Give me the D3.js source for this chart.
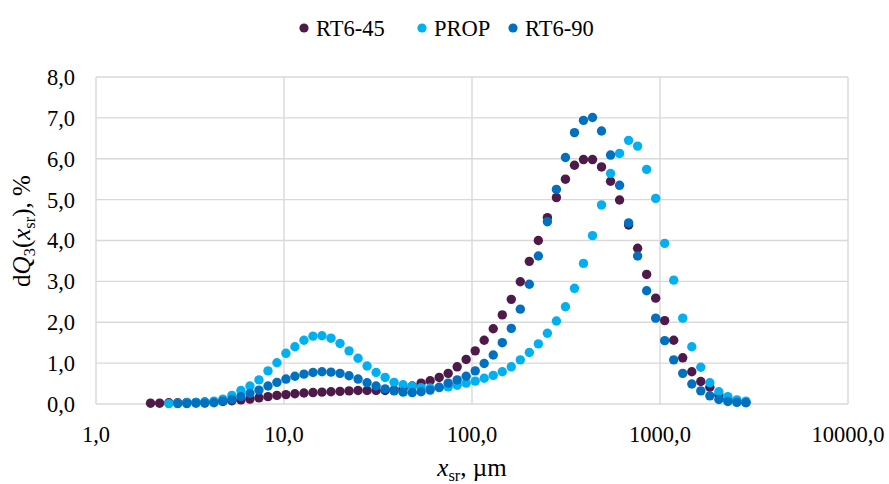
<!DOCTYPE html>
<html>
<head>
<meta charset="utf-8">
<script src="https://cdn.jsdelivr.net/npm/d3@7"></script>
<style>
  body { margin: 0; background: #fff; }
  text { font-family: "Liberation Serif", "Times New Roman", serif; fill: #000; }
</style>
</head>
<body>
<div id="chart"></div>
<script>
// particle size classes, µm
const sizes = [1.95, 2.18, 2.44, 2.72, 3.04, 3.40, 3.79, 4.24, 4.73, 5.28, 5.90, 6.59, 7.36, 8.22, 9.17,
  10.24, 11.43, 12.77, 14.26, 15.92, 17.78, 19.86, 22.18, 24.77, 27.66, 30.89, 34.5, 38.5, 43.0, 48.1,
  53.6, 59.9, 66.9, 74.7, 83.4, 93.1, 104.0, 116.1, 129.7, 144.9, 161.8, 180.7, 201.8, 225.4, 251.8,
  281.2, 314.1, 350.8, 391.7, 437.5, 488.6, 545.8, 609.5, 680.8, 760.3, 849.2, 948.4, 1059, 1183,
  1321, 1476, 1648, 1841, 2056, 2296, 2564, 2864];

// dQ3 values, %
const rt645 = [0.02, 0.02, 0.03, 0.03, 0.04, 0.04, 0.05, 0.05, 0.06, 0.08, 0.10, 0.12, 0.15, 0.18, 0.21,
  0.23, 0.25, 0.27, 0.28, 0.29, 0.30, 0.31, 0.32, 0.33, 0.33, 0.33, 0.33, 0.34, 0.38, 0.44,
  0.51, 0.57, 0.65, 0.75, 0.91, 1.09, 1.30, 1.56, 1.84, 2.18, 2.56, 2.99, 3.49, 4.00, 4.56,
  5.05, 5.50, 5.84, 5.98, 5.98, 5.80, 5.45, 4.99, 4.38, 3.81, 3.17, 2.59, 2.04, 1.56,
  1.13, 0.79, 0.55, 0.41, 0.22, 0.12, 0.07, 0.04];

const prop = [null, null, 0.01, 0.02, 0.03, 0.04, 0.05, 0.07, 0.12, 0.21, 0.33, 0.44, 0.59, 0.81, 1.01,
  1.24, 1.40, 1.56, 1.66, 1.67, 1.61, 1.48, 1.30, 1.12, 0.93, 0.77, 0.65, 0.53, 0.47, 0.43,
  0.40, 0.39, 0.40, 0.42, 0.46, 0.51, 0.56, 0.63, 0.70, 0.79, 0.91, 1.08, 1.26, 1.47, 1.73,
  2.03, 2.38, 2.83, 3.44, 4.12, 4.87, 5.64, 6.13, 6.45, 6.31, 5.74, 5.03, 3.93, 3.03,
  2.10, 1.40, 0.90, 0.52, 0.30, 0.18, 0.10, 0.07];

const rt690 = [null, null, null, 0.01, 0.01, 0.02, 0.02, 0.03, 0.07, 0.11, 0.18, 0.26, 0.34, 0.44, 0.53,
  0.61, 0.68, 0.73, 0.77, 0.79, 0.78, 0.75, 0.69, 0.61, 0.52, 0.44, 0.37, 0.32, 0.29, 0.28,
  0.30, 0.34, 0.41, 0.51, 0.59, 0.68, 0.81, 0.99, 1.20, 1.50, 1.85, 2.32, 2.93, 3.62, 4.46,
  5.25, 6.03, 6.64, 6.94, 7.01, 6.68, 6.09, 5.35, 4.43, 3.62, 2.77, 2.10, 1.55, 1.08,
  0.75, 0.49, 0.32, 0.20, 0.11, 0.06, 0.04, 0.03];

const seriesNames = ["RT6-45", "PROP", "RT6-90"];
const seriesColors = ["#4E1A4A", "#00B0F0", "#0070C0"];
const xTicks = [1, 10, 100, 1000, 10000];
const yTicks = [0, 1, 2, 3, 4, 5, 6, 7, 8];

const w = 889, h = 484;
const fs = 22.5;   // tick + legend size
const tfs = 25;    // axis title size
const sub = 16.5;  // subscript size
const grid = "#D9D9D9";
const serif = '"Liberation Serif", "Times New Roman", serif';

const svg = d3.select("#chart").append("svg")
  .attr("width", w).attr("height", h)
  .attr("font-family", serif);

const x = d3.scaleLog().domain([1, 10000]).range([96, 848]);
const y = d3.scaleLinear().domain([0, 8]).range([404, 77]);
const fmt = v => d3.format(".1f")(v).replace(".", ",");

// gridlines
svg.append("g").selectAll("line").data(yTicks).enter().append("line")
  .attr("x1", x(1)).attr("x2", x(10000))
  .attr("y1", d => y(d)).attr("y2", d => y(d))
  .attr("stroke", grid).attr("stroke-width", 1.4);
svg.append("g").selectAll("line").data(xTicks).enter().append("line")
  .attr("x1", d => x(d)).attr("x2", d => x(d))
  .attr("y1", y(0)).attr("y2", y(8))
  .attr("stroke", grid).attr("stroke-width", 1.4);

// tick labels
svg.append("g").selectAll("text").data(yTicks).enter().append("text")
  .attr("x", 75).attr("y", d => y(d)).attr("dy", "0.35em")
  .attr("text-anchor", "end").style("font-size", fs + "px")
  .text(fmt);
svg.append("g").selectAll("text").data(xTicks).enter().append("text")
  .attr("x", d => x(d)).attr("y", 441.5)
  .attr("text-anchor", "middle").style("font-size", fs + "px")
  .text(fmt);

// points, drawn in legend order so RT6-90 ends up on top
const allSeries = [rt645, prop, rt690];
allSeries.forEach(function(vals, i) {
  const pts = sizes.map((s, j) => ({ s: s, v: vals[j] })).filter(d => d.v != null);
  svg.append("g").selectAll("circle").data(pts).enter().append("circle")
    .attr("cx", d => x(d.s))
    .attr("cy", d => y(d.v))
    .attr("r", 4.7)
    .attr("fill", seriesColors[i]);
});

// legend
const legendX = [304, 422, 513];
seriesNames.forEach(function(name, i) {
  svg.append("circle").attr("cx", legendX[i]).attr("cy", 28).attr("r", 4.6)
    .attr("fill", seriesColors[i]);
  svg.append("text").attr("x", legendX[i] + 12).attr("y", 35.5)
    .style("font-size", fs + "px").text(name);
});

// axis titles
const xt = svg.append("text").attr("x", 472).attr("y", 476)
  .attr("text-anchor", "middle").style("font-size", tfs + "px");
xt.append("tspan").style("font-style", "italic").text("x");
xt.append("tspan").attr("dy", 5).style("font-size", sub + "px").text("sr");
xt.append("tspan").attr("dy", -5).text(", µm");

const yt = svg.append("text")
  .attr("transform", "translate(30,231) rotate(-90)")
  .attr("text-anchor", "middle").style("font-size", tfs + "px");
yt.append("tspan").text("d");
yt.append("tspan").style("font-style", "italic").text("Q");
yt.append("tspan").attr("dy", 5).style("font-size", sub + "px").text("3");
yt.append("tspan").attr("dy", -5).text("(");
yt.append("tspan").style("font-style", "italic").text("x");
yt.append("tspan").attr("dy", 5).style("font-size", sub + "px").text("sr");
yt.append("tspan").attr("dy", -5).text("), %");
</script>
</body>
</html>
